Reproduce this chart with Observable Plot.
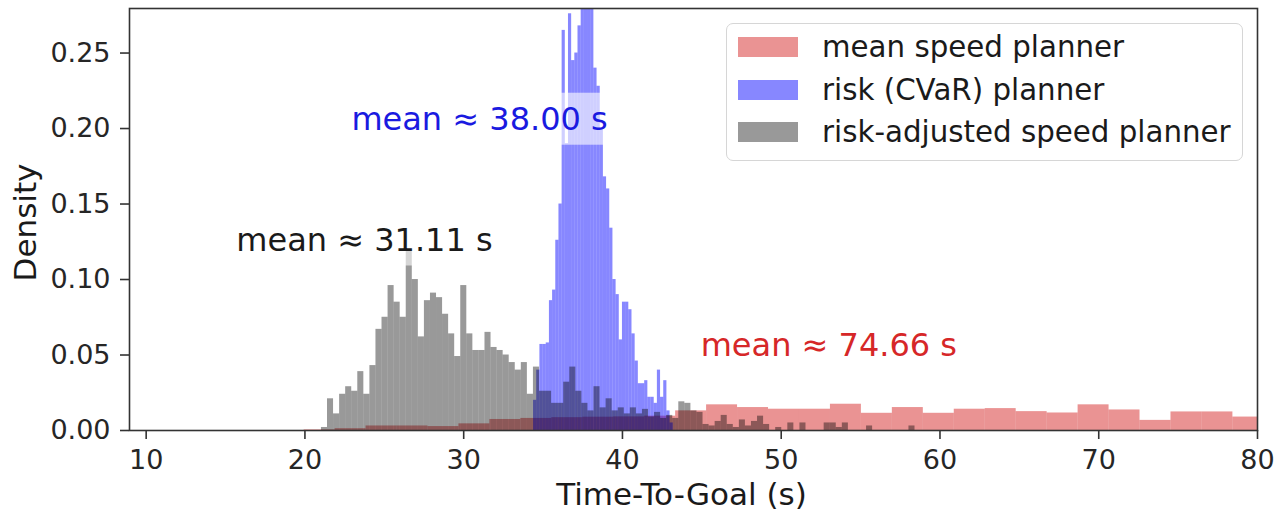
<!DOCTYPE html>
<html>
<head>
<meta charset="utf-8">
<script src="https://cdn.jsdelivr.net/npm/d3@7"></script>
<script src="https://cdn.jsdelivr.net/npm/@observablehq/plot@0.6"></script>
<style>
  body { margin: 0; background: #fff; }
  #chart { position: relative; width: 1276px; height: 517px; font-family: "DejaVu Sans", sans-serif; }
  .legend { position: absolute; left: 726px; top: 23px; width: 517px; height: 138px; box-sizing: border-box;
            border: 1.5px solid #d6d6d6; border-radius: 7px; background: rgba(255,255,255,0.8); }
  .legend .row { position: absolute; left: 11px; height: 20px; display: flex; align-items: center; }
  .legend .sw { width: 60px; height: 20px; }
  .legend .lab { margin-left: 24px; font-size: 29.3px; color: #1a1a1a; white-space: nowrap; line-height: 20px; }
</style>
</head>
<body>
<div id="chart"></div>
<script>
// Planners, in drawing order
const planners = ["mean speed planner", "risk (CVaR) planner", "risk-adjusted speed planner"];
const plannerColors = ["#d62728", "#0000ff", "#000000"];
const plannerOpacity = [0.5, 0.47, 0.4];

// Mean time-to-goal annotations
const meanLabels = ["mean ≈ 74.66 s", "mean ≈ 38.00 s", "mean ≈ 31.11 s"];
const meanLabelColors = ["#d62728", "#1a1ae0", "#1a1a1a"];
const meanLabelX = [53.0, 31.0, 23.75];
const meanLabelY = [0.0563, 0.206, 0.126];

// Histogram of the mean speed planner (density per bin)
const redStart = 19.95, redWidth = 1.95;
const redDensity = [0.0004, 0.0012, 0.0030, 0.0030, 0.0026, 0.0044, 0.0073, 0.0080, 0.0085, 0.0088,
                    0.0090, 0.0095, 0.0130, 0.0170, 0.0152, 0.0141, 0.0141, 0.0174, 0.0114, 0.0152,
                    0.0114, 0.0141, 0.0145, 0.0125, 0.0116, 0.0170, 0.0136, 0.0067, 0.0123, 0.0123,
                    0.0089];

// Histogram of the risk (CVaR) planner
const blueStart = 34.4, blueWidth = 0.2;
const blueDensity = [0.020, 0.040, 0.057, 0.057, 0.058, 0.086, 0.093, 0.126, 0.150, 0.265,
                     0.190, 0.276, 0.245, 0.250, 0.268, 0.295, 0.310, 0.305, 0.290, 0.240,
                     0.228, 0.200, 0.168, 0.160, 0.134, 0.100, 0.090, 0.060, 0.085, 0.085,
                     0.080, 0.064, 0.046, 0.031, 0.031, 0.033, 0.022, 0.022, 0.018, 0.040,
                     0.022, 0.033, 0.013, 0.005];

// Histogram of the risk-adjusted speed planner
const grayStart = 21.04, grayWidth = 0.3815;
const grayDensity = [0.002, 0.021, 0.011, 0.024, 0.029, 0.026, 0.039, 0.024, 0.043, 0.067,
                     0.075, 0.096, 0.085, 0.075, 0.119, 0.100, 0.062, 0.086, 0.091, 0.088,
                     0.077, 0.064, 0.049, 0.096, 0.064, 0.053, 0.053, 0.065, 0.055, 0.053,
                     0.050, 0.045, 0.040, 0.045, 0.024, 0.042, 0.026, 0.026, 0.018, 0.018,
                     0.032, 0.042, 0.026, 0.018, 0.013, 0.029, 0.015, 0.021, 0.013, 0.015,
                     0.011, 0.015, 0.011, 0.014, 0.009, 0.012, 0.008, 0.010, 0.008, 0.019,
                     0.018, 0.013, 0.012, 0.004, 0.003, 0.006, 0.010, 0.004, 0.002, 0.007,
                     0.003, 0.006, 0.0095, 0.004, 0, 0.002, 0, 0.005, 0, 0.005,
                     0, 0, 0, 0.005, 0.005, 0.002, 0.005, 0, 0, 0,
                     0.003, 0, 0, 0, 0, 0, 0, 0.003];

// Axis ticks
const xTicks = [10, 20, 30, 40, 50, 60, 70, 80];
const yTicks = [0, 0.05, 0.10, 0.15, 0.20, 0.25];

function toBins(start, width, density) {
  return density.map((d, i) => ({x1: start + i * width, x2: start + (i + 1) * width, density: d}));
}
const histograms = [
  toBins(redStart, redWidth, redDensity),
  toBins(blueStart, blueWidth, blueDensity),
  toBins(grayStart, grayWidth, grayDensity)
];
const annotations = meanLabels.map((t, i) => ({text: t, x: meanLabelX[i], y: meanLabelY[i], color: meanLabelColors[i]}));

const axisColor = "#333";
const chart = Plot.plot({
  width: 1276,
  height: 517,
  marginLeft: 129,
  marginRight: 19,
  marginTop: 8,
  marginBottom: 87,
  x: {domain: [8.95, 80]},
  y: {domain: [0, 0.2795]},
  color: {type: "identity"},
  style: {fontFamily: "DejaVu Sans, sans-serif", background: "white", color: "#262626"},
  marks: [
    ...histograms.map((bins, i) => Plot.rectY(bins, {
      x1: "x1", x2: "x2", y: "density",
      fill: plannerColors[i], fillOpacity: plannerOpacity[i], clip: true
    })),
    Plot.frame({stroke: axisColor, strokeWidth: 1.6}),
    Plot.axisX({ticks: xTicks, tickSize: 9, tickPadding: 10, fontSize: 27, label: null,
                stroke: axisColor, strokeWidth: 1.6, tickFormat: d => String(d)}),
    Plot.axisY({ticks: yTicks, tickSize: 9, tickPadding: 10, fontSize: 27, label: null,
                stroke: axisColor, strokeWidth: 1.6, tickFormat: d3.format(".2f")}),
    Plot.text(["Time-To-Goal (s)"], {text: d => d, frameAnchor: "bottom", lineAnchor: "middle", textAnchor: "middle",
                                     dy: 65, dx: -12, fontSize: 31, fill: "#1a1a1a"}),
    Plot.text(["Density"], {text: d => d, frameAnchor: "left", lineAnchor: "middle", textAnchor: "middle",
                            dx: -103, dy: 3, rotate: -90, fontSize: 31, fill: "#1a1a1a"}),
    Plot.text(annotations, {x: "x", y: "y", text: "text", fill: "color", fontSize: 32, ariaLabel: "mean-label"})
  ]
});

const host = document.getElementById("chart");
host.appendChild(chart);

// Translucent white boxes behind the mean annotations
const svgNS = "http://www.w3.org/2000/svg";
Array.from(chart.querySelectorAll("text"))
  .filter(t => meanLabels.includes(t.textContent))
  .forEach(t => {
    const b = t.getBBox();
    const r = document.createElementNS(svgNS, "rect");
    r.setAttribute("x", b.x - 8);
    r.setAttribute("y", b.y - 7);
    r.setAttribute("width", b.width + 16);
    r.setAttribute("height", b.height + 14);
    r.setAttribute("fill", "white");
    r.setAttribute("fill-opacity", "0.6");
    const tr = t.getAttribute("transform");
    if (tr) r.setAttribute("transform", tr);
    t.parentNode.insertBefore(r, t);
  });

// Legend
const legend = document.createElement("div");
legend.className = "legend";
const rowTops = [13, 55.5, 98];
planners.forEach((name, i) => {
  const row = document.createElement("div");
  row.className = "row";
  row.style.top = rowTops[i] + "px";
  const sw = document.createElement("div");
  sw.className = "sw";
  sw.style.background = plannerColors[i];
  sw.style.opacity = plannerOpacity[i];
  const lab = document.createElement("div");
  lab.className = "lab";
  lab.textContent = name;
  row.appendChild(sw);
  row.appendChild(lab);
  legend.appendChild(row);
});
host.appendChild(legend);
</script>
</body>
</html>
